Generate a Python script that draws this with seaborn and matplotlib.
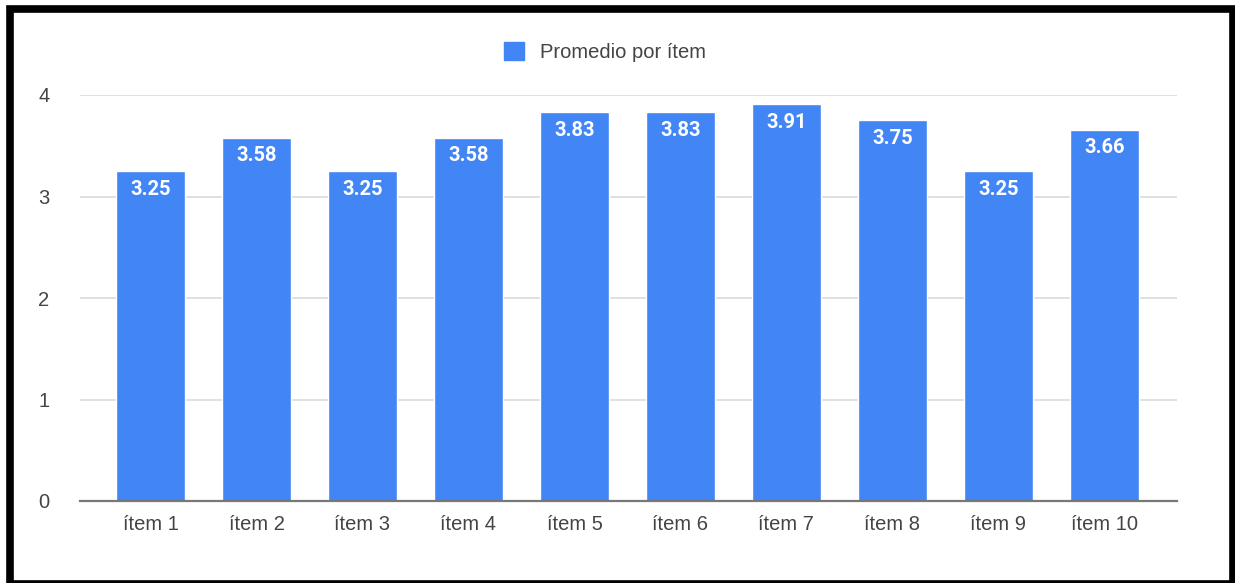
import matplotlib
matplotlib.use("Agg")
import matplotlib.pyplot as plt
from matplotlib.patches import Rectangle, Patch
import seaborn as sns
import pandas as pd

items = ["ítem 1", "ítem 2", "ítem 3", "ítem 4", "ítem 5",
         "ítem 6", "ítem 7", "ítem 8", "ítem 9", "ítem 10"]
promedios = [3.25, 3.58, 3.25, 3.58, 3.83, 3.83, 3.91, 3.75, 3.25, 3.66]
y_ticks = [0, 1, 2, 3, 4]
serie = "Promedio por ítem"

BLUE = "#4285F4"
TEXT = "#444444"

sns.set_theme(style="white")
plt.rcParams["font.family"] = ["Liberation Sans", "DejaVu Sans"]

df = pd.DataFrame({"item": items, "promedio": promedios})

fig = plt.figure(figsize=(12.35, 5.83), dpi=100)
fig.patch.set_facecolor("white")
ax = fig.add_axes([80 / 1235, 82 / 583, 1097 / 1235, 406 / 583])

sns.barplot(data=df, x="item", y="promedio", color=BLUE, saturation=1,
            width=0.65, ax=ax, zorder=3)

ax.set_xlim(-0.665, 9.685)
ax.set_ylim(0, 4)
ax.set_yticks(y_ticks)
ax.set_yticklabels([str(t) for t in y_ticks])
ax.set_xlabel("")
ax.set_ylabel("")
ax.grid(axis="y", color="#dddddd", linewidth=1.3, zorder=0)
ax.set_axisbelow(True)
for s in ["top", "right", "left"]:
    ax.spines[s].set_visible(False)
ax.spines["bottom"].set_color("#777777")
ax.spines["bottom"].set_linewidth(1.6)
ax.spines["bottom"].set_zorder(4)
ax.tick_params(axis="both", length=0, labelsize=14.5, colors=TEXT)
ax.tick_params(axis="x", pad=10)
ax.tick_params(axis="y", pad=22)

# value labels inside the top of each bar
for bar, v in zip(ax.patches, promedios):
    ax.annotate(f"{v:.2f}", (bar.get_x() + bar.get_width() / 2, v),
                xytext=(0, -18), textcoords="offset pixels",
                ha="center", va="center", color="white", fontsize=14.5,
                fontweight="bold", family=["Roboto", "DejaVu Sans"], zorder=5)

handle = Patch(facecolor=BLUE, edgecolor=BLUE)
fig.legend([handle], [serie], loc="center", bbox_to_anchor=(605 / 1235, 1 - 52 / 583),
           frameon=False, fontsize=14.5, labelcolor=TEXT, handlelength=1.0,
           handleheight=1.0, handletextpad=0.8)

# outer frame
fig.patches.append(Rectangle((10 / 1235, -1 / 583), 1223 / 1235, 575.5 / 583,
                             transform=fig.transFigure, fill=False,
                             edgecolor="black", linewidth=5.5, zorder=10))

fig.savefig("out.png", dpi=100, facecolor="white")
